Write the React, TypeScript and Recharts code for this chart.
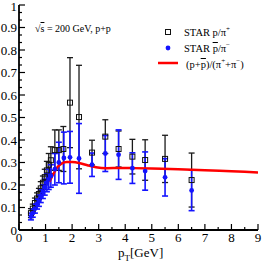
import React from 'react'
import { ComposedChart, XAxis, YAxis, Scatter, ErrorBar, Line } from 'recharts'

// STAR p/pi+ : [pT, ratio, error]
const pPiPlus: [number, number, number][] = [
  [0.45, 0.075, 0.02], [0.52, 0.095, 0.02], [0.6, 0.12, 0.022], [0.68, 0.14, 0.025],
  [0.75, 0.16, 0.025], [0.82, 0.185, 0.03], [0.9, 0.21, 0.03], [0.97, 0.235, 0.035],
  [1.05, 0.265, 0.04], [1.12, 0.29, 0.05], [1.2, 0.31, 0.06], [1.35, 0.355, 0.09],
  [1.5, 0.355, 0.09], [1.67, 0.36, 0.1], [1.92, 0.566, 0.2], [2.26, 0.502, 0.23],
  [2.75, 0.344, 0.055], [3.25, 0.415, 0.075], [3.75, 0.36, 0.08], [4.27, 0.326, 0.077],
  [4.75, 0.311, 0.09], [5.5, 0.316, 0.105], [6.5, 0.222, 0.12],
]

// STAR pbar/pi- : [pT, ratio, error]
const pbarPiMinus: [number, number, number][] = [
  [0.45, 0.06, 0.015], [0.52, 0.075, 0.018], [0.6, 0.095, 0.02], [0.68, 0.115, 0.022],
  [0.75, 0.13, 0.025], [0.82, 0.15, 0.028], [0.9, 0.17, 0.03], [0.97, 0.19, 0.035],
  [1.05, 0.21, 0.04], [1.12, 0.225, 0.045], [1.2, 0.24, 0.05], [1.35, 0.27, 0.07],
  [1.5, 0.3, 0.09], [1.69, 0.32, 0.115], [1.92, 0.323, 0.115], [2.26, 0.318, 0.155],
  [2.75, 0.29, 0.052], [3.25, 0.34, 0.08], [3.75, 0.335, 0.11], [4.27, 0.275, 0.068],
  [4.75, 0.262, 0.085], [5.5, 0.234, 0.083], [6.5, 0.176, 0.09],
]

// model curve (p+pbar)/(pi+ + pi-)
const modelPt = [1.15, 1.3, 1.45, 1.6, 1.8, 2.0, 2.3, 2.6, 2.9, 3.3, 3.8, 4.3, 5, 6, 7, 8, 9]
const modelRatio = [0.215, 0.25, 0.28, 0.295, 0.302, 0.302, 0.297, 0.287, 0.279, 0.275, 0.276, 0.275, 0.273, 0.27, 0.266, 0.261, 0.256]

const xTicks = Array.from({ length: 19 }, (_, i) => i * 0.5)
const yTicks = Array.from({ length: 31 }, (_, i) => i / 30)

const font = '"Liberation Serif", "DejaVu Serif", serif'

const blackData = pPiPlus.map(([x, y, err]) => ({ x, y, err }))
const blueData = pbarPiMinus.map(([x, y, err]) => ({ x, y, err }))
const modelData = modelPt.map((x, i) => ({ x, y: modelRatio[i] }))

const isMajorY = (v: number) => Math.abs(v * 10 - Math.round(v * 10)) < 1e-6
const fmtY = (v: number) => {
  const r = Math.round(v * 10) / 10
  return r === 0 ? '0' : r === 1 ? '1' : r.toFixed(1)
}

const BottomTick = (props: any) => {
  const { x, y, payload } = props
  const major = Number.isInteger(payload.value)
  return (
    <g>
      <line x1={x} x2={x} y1={y} y2={y - (major ? 6 : 3)} stroke="#000" strokeWidth={1.2} />
      {major && (
        <text x={x} y={y + 12} textAnchor="middle" fontSize={13} fontFamily={font} fill="#000">
          {payload.value}
        </text>
      )}
    </g>
  )
}

const TopTick = (props: any) => {
  const { x, y, payload } = props
  const major = Number.isInteger(payload.value)
  return <line x1={x} x2={x} y1={y} y2={y + (major ? 6 : 3)} stroke="#000" strokeWidth={1.2} />
}

const LeftTick = (props: any) => {
  const { x, y, payload } = props
  const major = isMajorY(payload.value)
  const top = payload.value > 0.99
  return (
    <g>
      <line x1={x} x2={x + (major ? 6 : 3)} y1={y} y2={y} stroke="#000" strokeWidth={1.2} />
      {major && (
        <text x={x - 2} y={y + (top ? 5.5 : 4.5)} textAnchor="end" fontSize={13} fontFamily={font} fill="#000">
          {fmtY(payload.value)}
        </text>
      )}
    </g>
  )
}

const RightTick = (props: any) => {
  const { x, y, payload } = props
  const major = isMajorY(payload.value)
  return <line x1={x} x2={x - (major ? 6 : 3)} y1={y} y2={y} stroke="#000" strokeWidth={1.2} />
}

const OpenSquare = (props: any) => {
  const { cx, cy } = props
  return <rect x={cx - 2.5} y={cy - 2.5} width={5} height={5} fill="none" stroke="#111" strokeWidth={1} />
}

const BlueDot = (props: any) => {
  const { cx, cy } = props
  return <circle cx={cx} cy={cy} r={2.4} fill="#1414ff" />
}

const ov = (s: React.CSSProperties): React.CSSProperties => ({
  position: 'absolute',
  fontFamily: font,
  color: '#000',
  whiteSpace: 'nowrap',
  lineHeight: 1,
  ...s,
})

export default function App() {
  return (
    <div style={{ position: 'absolute', left: 0, top: 0, width: 262, height: 262, background: '#fff' }}>
      <ComposedChart width={262} height={262} margin={{ top: 5, right: 4, bottom: 0, left: 0 }}>
        <XAxis
          xAxisId="b"
          type="number"
          dataKey="x"
          domain={[0, 9]}
          ticks={xTicks}
          interval={0}
          height={32}
          tickSize={0}
          tickMargin={0}
          tickLine={false}
          axisLine={{ stroke: '#000', strokeWidth: 1.8 }}
          tick={BottomTick}
          allowDataOverflow
        />
        <XAxis
          xAxisId="t"
          orientation="top"
          type="number"
          dataKey="x"
          domain={[0, 9]}
          ticks={xTicks}
          interval={0}
          height={0}
          tickSize={0}
          tickMargin={0}
          tickLine={false}
          axisLine={{ stroke: '#000', strokeWidth: 1.8 }}
          tick={TopTick}
        />
        <YAxis
          yAxisId="l"
          type="number"
          dataKey="y"
          domain={[0, 1]}
          ticks={yTicks}
          interval={0}
          width={19}
          tickSize={0}
          tickMargin={0}
          tickLine={false}
          axisLine={{ stroke: '#000', strokeWidth: 1.8 }}
          tick={LeftTick}
          allowDataOverflow
        />
        <YAxis
          yAxisId="r"
          orientation="right"
          type="number"
          dataKey="y"
          domain={[0, 1]}
          ticks={yTicks}
          interval={0}
          width={0}
          tickSize={0}
          tickMargin={0}
          tickLine={false}
          axisLine={{ stroke: '#000', strokeWidth: 1.8 }}
          tick={RightTick}
        />
        <Scatter
          xAxisId="b"
          yAxisId="l"
          data={blackData}
          dataKey="y"
          shape={OpenSquare}
          isAnimationActive={false}
        >
          <ErrorBar dataKey="err" direction="y" width={3} stroke="#1a1a1a" strokeWidth={1.3} />
        </Scatter>
        <Scatter
          xAxisId="b"
          yAxisId="l"
          data={blueData}
          dataKey="y"
          shape={BlueDot}
          isAnimationActive={false}
        >
          <ErrorBar dataKey="err" direction="y" width={3} stroke="#1414ff" strokeWidth={1.6} />
        </Scatter>
        <Line
          xAxisId="b"
          yAxisId="l"
          data={modelData}
          dataKey="y"
          type="monotone"
          stroke="#ff0000"
          strokeWidth={2.5}
          dot={false}
          isAnimationActive={false}
        />
      </ComposedChart>

      <div style={ov({ left: 35, top: 24, fontSize: 10 })}>
        √<span style={{ textDecoration: 'overline' }}>s</span> = 200 GeV, p+p
      </div>

      <svg style={{ position: 'absolute', left: 0, top: 0 }} width={262} height={80}>
        <rect x={165.5} y={29.5} width={5} height={5} fill="none" stroke="#111" strokeWidth={1} />
        <circle cx={168} cy={48} r={2.4} fill="#1414ff" />
        <line x1={158} x2={178} y1={63} y2={63} stroke="#ff0000" strokeWidth={2.5} />
      </svg>
      <div style={ov({ left: 184, top: 26, fontSize: 10.5 })}>
        STAR p/π<sup style={{ fontSize: 7 }}>+</sup>
      </div>
      <div style={ov({ left: 184, top: 42, fontSize: 10.5 })}>
        STAR <span style={{ textDecoration: 'overline' }}>p</span>/π<sup style={{ fontSize: 7 }}>−</sup>
      </div>
      <div style={ov({ left: 186, top: 58, fontSize: 10.5 })}>
        (p+<span style={{ textDecoration: 'overline' }}>p</span>)/(π<sup style={{ fontSize: 7 }}>+</sup>+π<sup style={{ fontSize: 7 }}>−</sup>)
      </div>
      <div style={ov({ left: 118, top: 246, fontSize: 13 })}>
        p<sub style={{ fontSize: 9, lineHeight: 0 }}>T</sub>[GeV]
      </div>
    </div>
  )
}
